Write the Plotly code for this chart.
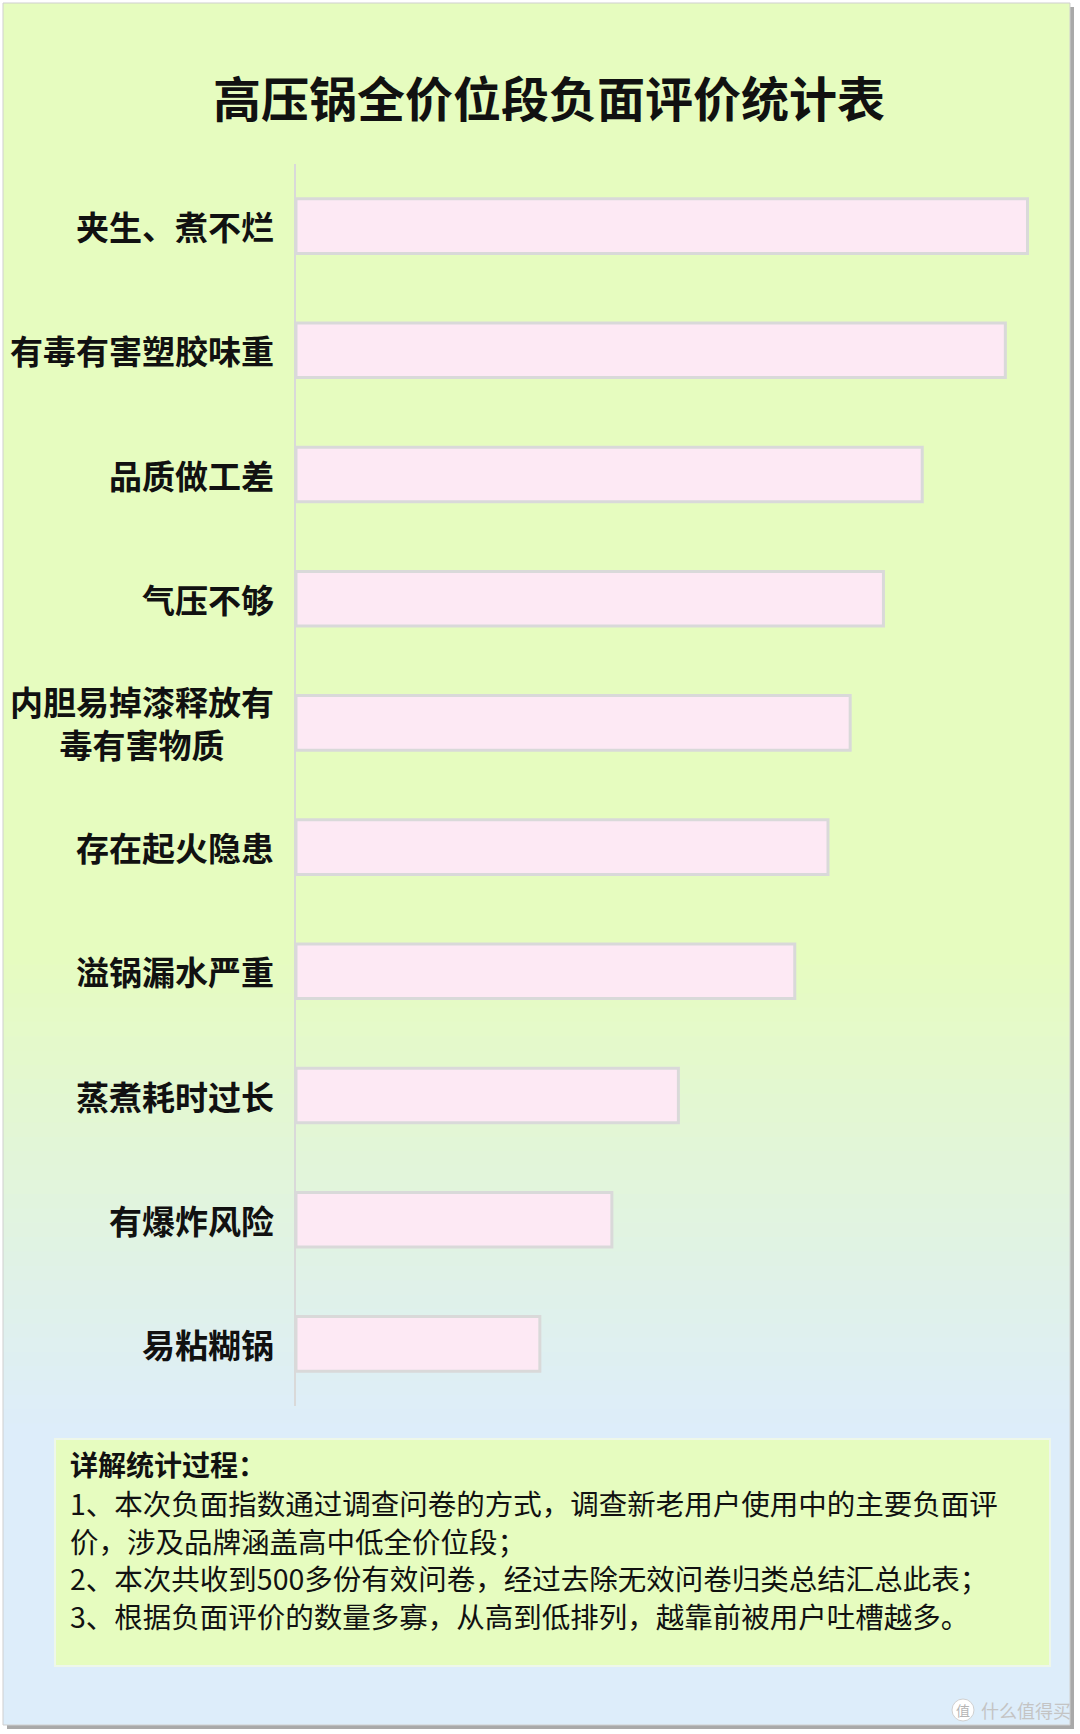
import plotly.graph_objects as go

# ---------------- data ----------------
categories = [
    "夹生、煮不烂",
    "有毒有害塑胶味重",
    "品质做工差",
    "气压不够",
    "内胆易掉漆释放有毒有害物质",
    "存在起火隐患",
    "溢锅漏水严重",
    "蒸煮耗时过长",
    "有爆炸风险",
    "易粘糊锅",
]
category_labels = [
    "夹生、煮不烂",
    "有毒有害塑胶味重",
    "品质做工差",
    "气压不够",
    "内胆易掉漆释放有<br>毒有害物质",
    "存在起火隐患",
    "溢锅漏水严重",
    "蒸煮耗时过长",
    "有爆炸风险",
    "易粘糊锅",
]
values = [132, 128, 113, 106, 100, 96, 90, 69, 57, 44]

title_text = "高压锅全价位段负面评价统计表"
note_heading = "详解统计过程："
note_lines = [
    "1、本次负面指数通过调查问卷的方式，调查新老用户使用中的主要负面评",
    "价，涉及品牌涵盖高中低全价位段；",
    "2、本次共收到500多份有效问卷，经过去除无效问卷归类总结汇总此表；",
    "3、根据负面评价的数量多寡，从高到低排列，越靠前被用户吐槽越多。",
]
watermark = "什么值得买"

# ---------------- geometry helpers ----------------
W, H = 1080, 1734
FONT = "Noto Sans CJK SC"


def px(x):
    return x / W


def py(y):
    return 1 - y / H


fig = go.Figure()

fig.add_trace(go.Bar(
    x=values,
    y=categories,
    orientation="h",
    marker=dict(color="#fde9f4", line=dict(color="#d9d9d9", width=3)),
    hoverinfo="x+y",
))

shapes = []
# frame shadow
shapes.append(dict(type="rect", xref="paper", yref="paper",
                   x0=px(7), x1=px(1074), y0=py(1729), y1=py(7),
                   fillcolor="#a9a9a9", line=dict(width=0), layer="below"))


def hex2rgb(h):
    h = h.lstrip("#")
    return tuple(int(h[i:i + 2], 16) for i in (0, 2, 4))


top_c = hex2rgb("#e6fcbf")
bot_c = hex2rgb("#ddedfa")
g0, g1 = 950, 1430
top, bottom = 3, 1725
n = 120
step = (bottom - top) / n
for i in range(n):
    y0 = top + i * step
    y1 = y0 + step + 0.8
    mid = (y0 + y1) / 2
    t = min(max((mid - g0) / (g1 - g0), 0), 1)
    c = tuple(round(a + (b - a) * t) for a, b in zip(top_c, bot_c))
    shapes.append(dict(type="rect", xref="paper", yref="paper",
                       x0=px(3), x1=px(1070), y0=py(min(y1, bottom)), y1=py(y0),
                       fillcolor="rgb(%d,%d,%d)" % c, line=dict(width=0), layer="below"))
# frame border
shapes.append(dict(type="rect", xref="paper", yref="paper",
                   x0=px(3), x1=px(1070), y0=py(1725), y1=py(3),
                   fillcolor="rgba(0,0,0,0)", line=dict(color="#cfcfcf", width=1), layer="below"))
# notes box
shapes.append(dict(type="rect", xref="paper", yref="paper",
                   x0=px(55), x1=px(1050), y0=py(1666), y1=py(1439),
                   fillcolor="#e6fcbf", line=dict(color="#eef7ea", width=2), layer="below"))
# watermark circle
shapes.append(dict(type="circle", xref="paper", yref="paper",
                   x0=px(952), x1=px(974), y0=py(1721), y1=py(1699),
                   fillcolor="#ffffff", line=dict(color="#d0d0d0", width=1), layer="above"))

annotations = []
annotations.append(dict(text="<b>%s</b>" % title_text, xref="paper", yref="paper",
                        x=px(549), y=py(96), xanchor="center", yanchor="middle",
                        showarrow=False, font=dict(family=FONT, size=48, color="#111111")))
for cat, lab in zip(categories, category_labels):
    annotations.append(dict(text="<b>%s</b>" % lab, xref="paper", yref="y",
                            x=px(276), y=cat, xanchor="right", yanchor="middle",
                            align="center", showarrow=False,
                            font=dict(family=FONT, size=33, color="#111111")))
annotations.append(dict(text="<b>%s</b>" % note_heading, xref="paper", yref="paper",
                        x=px(68), y=py(1464), xanchor="left", yanchor="middle",
                        showarrow=False, font=dict(family=FONT, size=28, color="#111111")))
line_y = [1502, 1540, 1577, 1615]
for ln, yy in zip(note_lines, line_y):
    annotations.append(dict(text=ln, xref="paper", yref="paper",
                            x=px(68), y=py(yy), xanchor="left", yanchor="middle",
                            showarrow=False, font=dict(family=FONT, size=28.5, color="#111111")))
annotations.append(dict(text="值", xref="paper", yref="paper",
                        x=px(963), y=py(1710), xanchor="center", yanchor="middle",
                        showarrow=False, font=dict(family=FONT, size=14, color="#b5b5b5")))
annotations.append(dict(text=watermark, xref="paper", yref="paper",
                        x=px(979), y=py(1710), xanchor="left", yanchor="middle",
                        showarrow=False, font=dict(family=FONT, size=18, color="#c4c4c4")))

fig.update_layout(
    width=W, height=H,
    margin=dict(l=0, r=0, t=0, b=0),
    paper_bgcolor="#ffffff",
    plot_bgcolor="rgba(0,0,0,0)",
    showlegend=False,
    bargap=0.56,
    shapes=shapes,
    annotations=annotations,
    xaxis=dict(domain=[px(296), px(1058)], range=[0, 137.5], visible=False,
               fixedrange=True),
    yaxis=dict(domain=[py(1406), py(164)], autorange="reversed",
               showticklabels=False, showgrid=False, zeroline=False,
               showline=True, linecolor="#d9d9d9", linewidth=2, ticks="",
               fixedrange=True),
    font=dict(family=FONT),
)

fig.write_html("out.html",
               config={"displayModeBar": False},
               post_script="document.body.style.margin='0';document.body.style.overflow='hidden';")
